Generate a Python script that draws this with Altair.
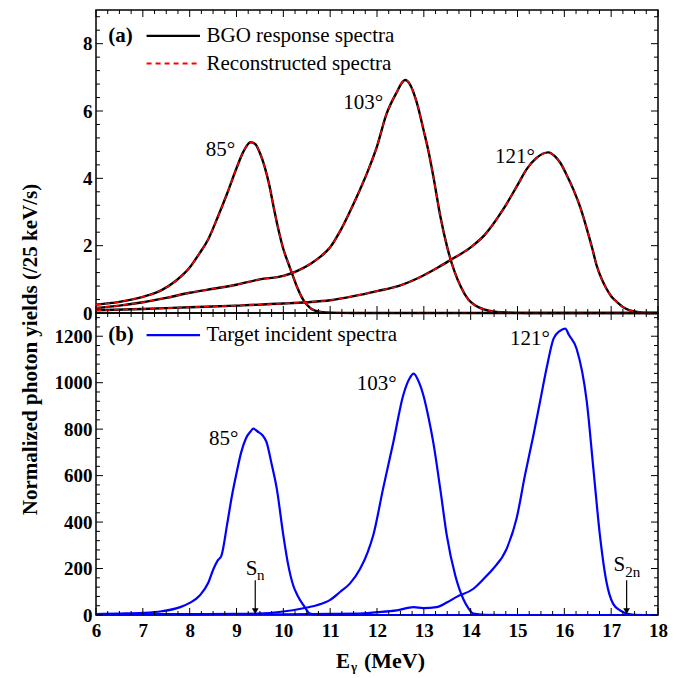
import altair as alt
import pandas as pd

FONT = "Liberation Serif"

# ---------------- data: panel (a) BGO response / reconstructed spectra ----------------
a85_e = [6.0, 6.5, 7.0, 7.4, 7.7, 8.0, 8.2, 8.4, 8.6, 8.8, 9.0, 9.15, 9.3, 9.4, 9.5, 9.6, 9.7,
         9.8, 9.9, 10.0, 10.1, 10.2, 10.3, 10.4, 10.5, 10.6, 10.7, 10.8, 11.0, 11.5, 18.0]
a85_y = [0.25, 0.33, 0.48, 0.68, 0.95, 1.35, 1.75, 2.2, 2.85, 3.55, 4.3, 4.8, 5.07, 5.02, 4.75,
         4.35, 3.8, 3.1, 2.45, 1.9, 1.5, 1.12, 0.75, 0.45, 0.25, 0.12, 0.06, 0.03, 0.01, 0.0, 0.0]

a103_e = [6.0, 6.5, 7.0, 7.5, 8.0, 8.5, 9.0, 9.5, 10.0, 10.3, 10.6, 10.8, 11.0, 11.2, 11.4, 11.6,
          11.8, 12.0, 12.2, 12.4, 12.6, 12.7, 12.85, 13.0, 13.1, 13.2, 13.35, 13.5, 13.65, 13.8,
          13.95, 14.1, 14.3, 14.5, 14.8, 15.2, 18.0]
a103_y = [0.15, 0.22, 0.32, 0.45, 0.6, 0.72, 0.84, 1.0, 1.1, 1.25, 1.48, 1.68, 1.95, 2.4, 2.95,
          3.55, 4.2, 4.95, 5.9, 6.5, 6.92, 6.8, 6.25, 5.4, 4.8, 4.08, 2.89, 1.95, 1.25, 0.75,
          0.4, 0.22, 0.1, 0.04, 0.01, 0.0, 0.0]

a121_e = [6.0, 7.0, 8.0, 9.0, 10.0, 10.5, 11.0, 11.5, 12.0, 12.5, 13.0, 13.3, 13.6, 14.0, 14.3,
          14.7, 15.0, 15.2, 15.4, 15.66, 15.8, 15.91, 16.05, 16.19, 16.35, 16.48, 16.6, 16.69,
          16.8, 16.9, 17.0, 17.12, 17.25, 17.4, 17.6, 17.8, 18.0]
a121_y = [0.08, 0.12, 0.17, 0.22, 0.28, 0.32, 0.38, 0.5, 0.65, 0.82, 1.12, 1.35, 1.6, 1.95, 2.32,
          3.09, 3.8, 4.28, 4.6, 4.77, 4.65, 4.47, 4.1, 3.68, 3.1, 2.5, 1.9, 1.41, 1.0, 0.72,
          0.5, 0.33, 0.18, 0.08, 0.02, 0.0, 0.0]

# ---------------- data: panel (b) target incident spectra ----------------
b85_e = [6.0, 6.5, 7.0, 7.4, 7.8, 8.0, 8.22, 8.4, 8.51, 8.6, 8.68, 8.8, 8.9, 9.0, 9.1, 9.2, 9.3,
         9.36, 9.45, 9.55, 9.64, 9.75, 9.86, 10.0, 10.1, 10.21, 10.3, 10.43, 10.57, 10.7, 11.0, 18.0]
b85_y = [4, 6, 9, 16, 34, 52, 85, 140, 199, 235, 257, 390, 510, 610, 700, 760, 790,
         802, 790, 775, 745, 650, 544, 343, 220, 128, 85, 42, 6, 1, 0, 0]

b103_e = [6.0, 7.0, 8.0, 9.0, 9.43, 10.0, 10.4, 10.71, 11.0, 11.21, 11.42, 11.64, 11.8, 11.92,
          12.13, 12.35, 12.56, 12.7, 12.78, 12.9, 12.99, 13.1, 13.2, 13.35, 13.49, 13.67, 13.84,
          13.95, 14.06, 14.3, 15.0, 18.0]
b103_y = [2, 3, 4, 5, 6, 15, 28, 42, 65, 99, 135, 199, 270, 343, 544, 745, 946, 1020, 1039,
          1000, 946, 850, 745, 544, 343, 171, 70, 30, 6, 1, 0, 0]

b121_e = [6.0, 8.0, 10.0, 11.0, 11.57, 12.0, 12.42, 12.78, 12.99, 13.27, 13.5, 13.7, 14.06, 14.3,
          14.48, 14.77, 14.98, 15.16, 15.34, 15.48, 15.62, 15.77, 15.9, 16.02, 16.1, 16.26, 16.48,
          16.62, 16.76, 16.9, 17.04, 17.19, 17.33, 17.5, 18.0]
b121_y = [1, 2, 3, 5, 6, 12, 20, 34, 30, 34, 55, 78, 113, 160, 199, 286, 415, 602, 774, 917,
          1061, 1190, 1222, 1233, 1205, 1147, 917, 630, 343, 142, 49, 20, 6, 1, 0]

angles = ["85°", "103°", "121°"]

# annotation labels
a_lab_e = [8.97, 12.13, 15.37]
a_lab_y = [4.83, 6.25, 4.62]
b_lab_e = [9.04, 12.42, 15.69]
b_lab_y = [759, 996, 1190]

x_ticks_major = list(range(6, 19))
x_ticks_minor = [6 + 0.25 * i for i in range(49) if i % 4 != 0]
a_ticks_major = [0, 2, 4, 6, 8]
a_ticks_minor = [round(0.4 * i, 2) for i in range(23) if i % 5 != 0]
b_ticks_major = [0, 200, 400, 600, 800, 1000, 1200]
b_ticks_minor = [40 * i for i in range(33) if i % 5 != 0]

W, H1, H2 = 562, 303, 302
xs = alt.Scale(domain=[6, 18], nice=False, zero=False)
ys_a = alt.Scale(domain=[0, 9], nice=False)
ys_b = alt.Scale(domain=[0, 1300], nice=False)

label_axis = dict(tickSize=0, domain=False, grid=False, labelFont=FONT, labelFontSize=19,
                  labelFontWeight="bold", labelColor="black", format="d")

AX_A_Y = alt.Axis(values=a_ticks_major, title=None, labelPadding=4, **label_axis)
AX_B_Y = alt.Axis(values=b_ticks_major, title="Normalized photon yields (/25 keV/s)",
                  titleFont=FONT, titleFontSize=21, titleFontWeight="bold", titleColor="black",
                  titleY=36, titlePadding=14, labelPadding=4, **label_axis)
AX_B_X = alt.Axis(values=x_ticks_major, title=None, labelFlush=False, labelPadding=6, **label_axis)


def long_df(es, ys):
    rows = []
    for ang, e, y in zip(angles, es, ys):
        for ei, yi in zip(e, y):
            rows.append({"E": ei, "Y": yi, "angle": ang})
    return pd.DataFrame(rows)


top_df = long_df([a85_e, a103_e, a121_e], [a85_y, a103_y, a121_y])
bot_df = long_df([b85_e, b103_e, b121_e], [b85_y, b103_y, b121_y])


def tick_layers(xax, yscale, yax, ymaj, ymin, H):
    layers = []
    for vals, ln in ((ymaj, 7), (ymin, 4)):
        d = pd.DataFrame({"v": vals})
        base = alt.Chart(d).mark_rule(color="black", strokeWidth=1)
        layers.append(base.encode(y=alt.Y("v:Q", scale=yscale, axis=yax), x=alt.value(0), x2=alt.value(ln)))
        layers.append(base.encode(y=alt.Y("v:Q", scale=yscale, axis=yax), x=alt.value(W), x2=alt.value(W - ln)))
    for vals, ln in ((x_ticks_major, 7), (x_ticks_minor, 4)):
        d = pd.DataFrame({"v": vals})
        base = alt.Chart(d).mark_rule(color="black", strokeWidth=1)
        layers.append(base.encode(x=alt.X("v:Q", scale=xs, axis=xax), y=alt.value(0), y2=alt.value(ln)))
        layers.append(base.encode(x=alt.X("v:Q", scale=xs, axis=xax), y=alt.value(H), y2=alt.value(H - ln)))
    return layers


def pos(xf, yf, yscale, xax, yax):
    return dict(x=alt.X(xf, scale=xs, axis=xax), y=alt.Y(yf, scale=yscale, axis=yax))


# ---------------- panel (a) ----------------
PA = lambda xf, yf: pos(xf, yf, ys_a, None, AX_A_Y)

black = alt.Chart(top_df).mark_line(color="black", strokeWidth=2.4, interpolate="monotone").encode(
    **PA("E:Q", "Y:Q"), detail="angle:N")
red = alt.Chart(top_df).mark_line(color="#ff0000", strokeWidth=1.6, strokeDash=[5, 4],
                                  interpolate="monotone").encode(**PA("E:Q", "Y:Q"), detail="angle:N")

leg_a = pd.DataFrame({"x1": [7.08, 7.08], "x2": [8.22, 8.22], "y": [8.23, 7.41],
                      "t": ["BGO response spectra", "Reconstructed spectra"], "tx": [8.36, 8.36]})
leg_a_black = alt.Chart(leg_a.iloc[[0]]).mark_rule(color="black", strokeWidth=2.2).encode(
    **PA("x1:Q", "y:Q"), x2="x2:Q")
leg_a_red = alt.Chart(leg_a.iloc[[1]]).mark_rule(color="#ff0000", strokeWidth=2, strokeDash=[5, 4]).encode(
    **PA("x1:Q", "y:Q"), x2="x2:Q")
leg_a_text = alt.Chart(leg_a).mark_text(font=FONT, fontSize=21, align="left", baseline="middle",
                                        color="black").encode(**PA("tx:Q", "y:Q"), text="t:N")
tag_a = alt.Chart(pd.DataFrame({"x": [6.26], "y": [8.23], "t": ["(a)"]})).mark_text(
    font=FONT, fontSize=21, fontWeight="bold", align="left", baseline="middle", color="black").encode(
    **PA("x:Q", "y:Q"), text="t:N")
ang_a = alt.Chart(pd.DataFrame({"x": a_lab_e, "y": a_lab_y, "t": angles})).mark_text(
    font=FONT, fontSize=21, align="right", baseline="middle", color="black").encode(
    **PA("x:Q", "y:Q"), text="t:N")

top = alt.layer(black, red, leg_a_black, leg_a_red, leg_a_text, tag_a, ang_a,
                *tick_layers(None, ys_a, AX_A_Y, a_ticks_major, a_ticks_minor, H1)
                ).properties(width=W, height=H1)

# ---------------- panel (b) ----------------
PB = lambda xf, yf: pos(xf, yf, ys_b, AX_B_X, AX_B_Y)

blue = alt.Chart(bot_df).mark_line(color="#0000ff", strokeWidth=2.2, interpolate="monotone").encode(
    **PB("E:Q", "Y:Q"), detail="angle:N")
leg_b = pd.DataFrame({"x1": [7.08], "x2": [8.22], "y": [1205], "t": ["Target incident spectra"], "tx": [8.36]})
leg_b_line = alt.Chart(leg_b).mark_rule(color="#0000ff", strokeWidth=2.2).encode(**PB("x1:Q", "y:Q"), x2="x2:Q")
leg_b_text = alt.Chart(leg_b).mark_text(font=FONT, fontSize=21, align="left", baseline="middle",
                                        color="black").encode(**PB("tx:Q", "y:Q"), text="t:N")
tag_b = alt.Chart(pd.DataFrame({"x": [6.26], "y": [1205], "t": ["(b)"]})).mark_text(
    font=FONT, fontSize=21, fontWeight="bold", align="left", baseline="middle", color="black").encode(
    **PB("x:Q", "y:Q"), text="t:N")
ang_b = alt.Chart(pd.DataFrame({"x": b_lab_e, "y": b_lab_y, "t": angles})).mark_text(
    font=FONT, fontSize=21, align="right", baseline="middle", color="black").encode(
    **PB("x:Q", "y:Q"), text="t:N")

# separation energy arrows
sep_e = [9.40, 17.33]
arr = pd.DataFrame({"x": sep_e, "y1": [150, 150], "y2": [25, 25], "yh": [17, 17]})
arr_line = alt.Chart(arr).mark_rule(color="black", strokeWidth=1.2).encode(**PB("x:Q", "y1:Q"), y2="y2:Q")
arr_head = alt.Chart(arr).mark_point(shape="triangle-down", filled=True, size=45, color="black",
                                     opacity=1).encode(**PB("x:Q", "yh:Q"))
s_main = alt.Chart(pd.DataFrame({"x": [9.20, 17.05], "y": [199, 214], "t": ["S", "S"]})).mark_text(
    font=FONT, fontSize=21, align="left", baseline="middle", color="black").encode(
    **PB("x:Q", "y:Q"), text="t:N")
s_sub = alt.Chart(pd.DataFrame({"x": [9.44, 17.30], "y": [172, 185], "t": ["n", "2n"]})).mark_text(
    font=FONT, fontSize=15, align="left", baseline="middle", color="black").encode(
    **PB("x:Q", "y:Q"), text="t:N")

# x-axis title E_gamma (MeV), placed in pixels below the bottom panel
xt_E = alt.Chart(pd.DataFrame({"t": ["E"]})).mark_text(
    font=FONT, fontSize=21, fontWeight="bold", align="left", baseline="alphabetic", color="black").encode(
    x=alt.value(240), y=alt.value(355), text="t:N")
xt_g = alt.Chart(pd.DataFrame({"t": ["γ"]})).mark_text(
    font=FONT, fontSize=13, fontWeight="bold", align="left", baseline="alphabetic", color="black").encode(
    x=alt.value(255), y=alt.value(358), text="t:N")
xt_u = alt.Chart(pd.DataFrame({"t": ["(MeV)"]})).mark_text(
    font=FONT, fontSize=22, fontWeight="bold", align="left", baseline="alphabetic", color="black").encode(
    x=alt.value(268), y=alt.value(355), text="t:N")

bot = alt.layer(blue, leg_b_line, leg_b_text, tag_b, ang_b, arr_line, arr_head, s_main, s_sub,
                xt_E, xt_g, xt_u,
                *tick_layers(AX_B_X, ys_b, AX_B_Y, b_ticks_major, b_ticks_minor, H2)
                ).properties(width=W, height=H2)

chart = alt.vconcat(top, bot, spacing=0, bounds="flush").properties(
    padding={"left": 10, "top": 0, "right": 5, "bottom": 3}
).configure(background="white", font=FONT).configure_view(
    stroke="black", strokeWidth=1.5
).configure_axis(labelFont=FONT, labelFontWeight="bold", labelFontSize=19, titleFont=FONT)

chart.save("out.html", embed_options={"renderer": "svg", "actions": False})
